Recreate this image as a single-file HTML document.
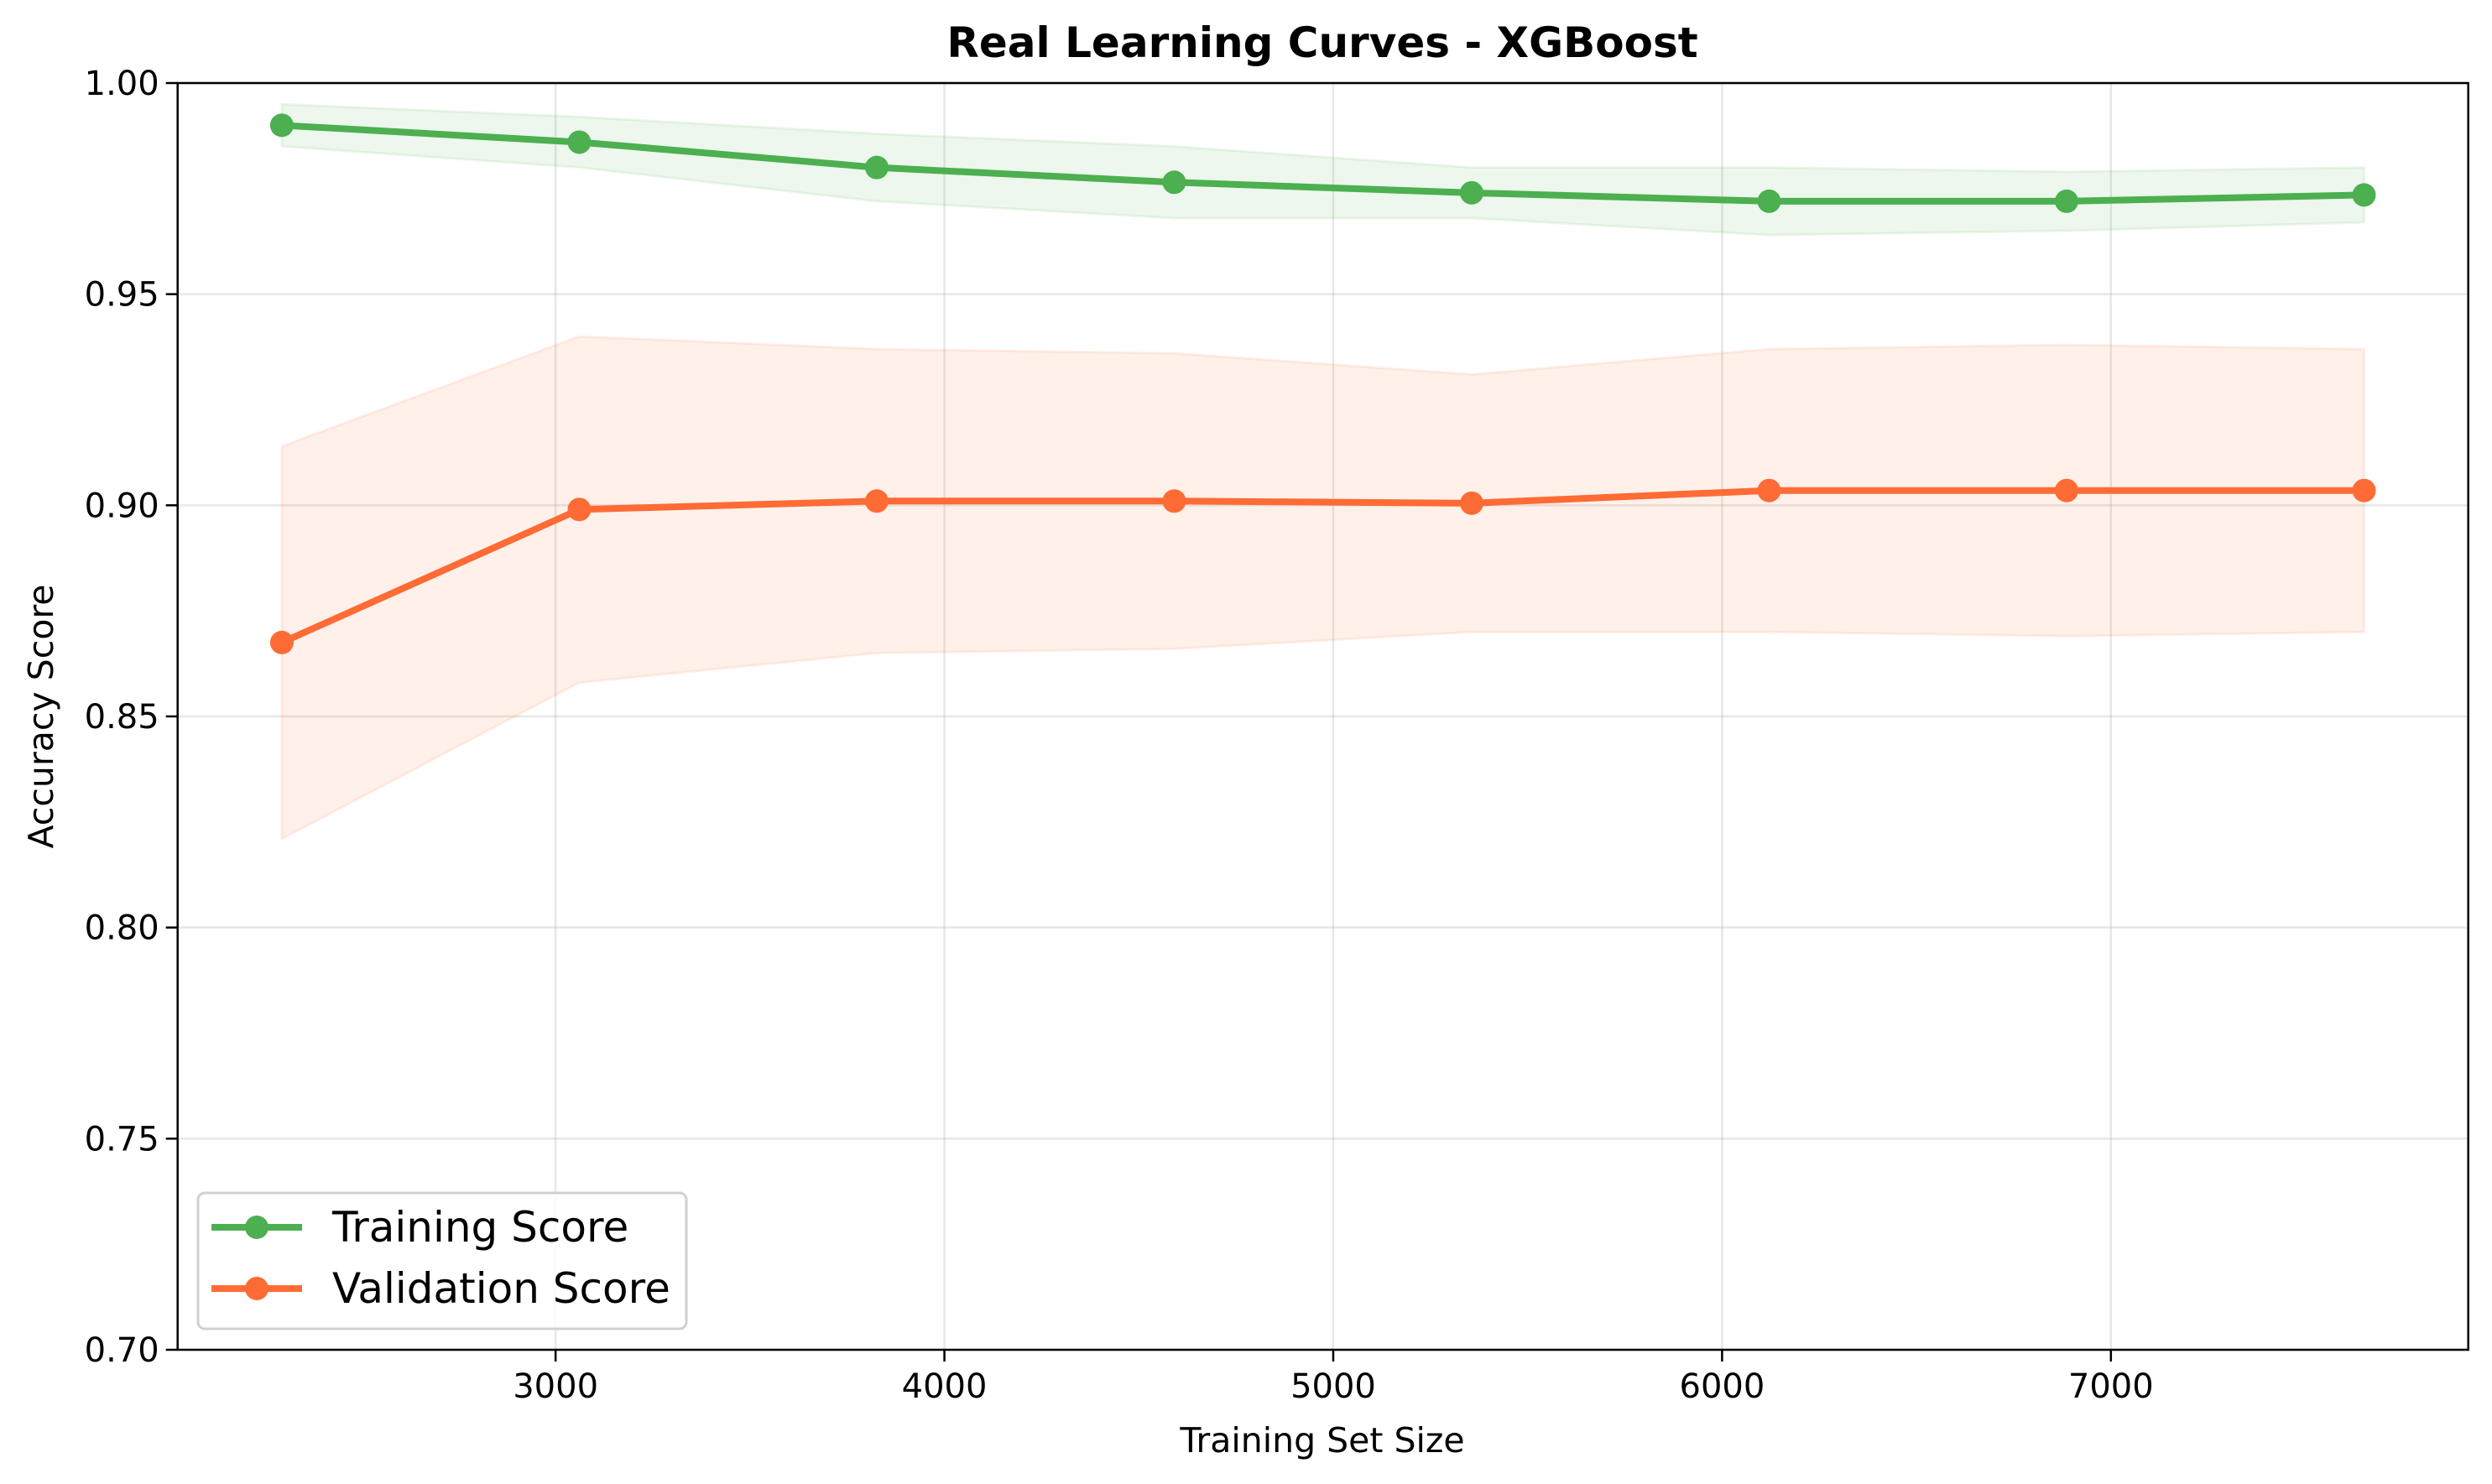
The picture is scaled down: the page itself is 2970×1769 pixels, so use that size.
<!DOCTYPE html>
<html><head><meta charset="utf-8"><style>
html,body{margin:0;padding:0;background:#fff;}
svg{display:block;font-family:"DejaVu Sans","Liberation Sans",sans-serif;}
</style></head><body>
<svg id="chart" width="2970" height="1769" viewBox="0 0 2970 1769" xmlns="http://www.w3.org/2000/svg">
<rect width="2970" height="1769" fill="#fff"/>
<text x="1576" y="68" text-anchor="middle" font-size="50" font-weight="bold">Real Learning Curves - XGBoost</text>
<text x="1576" y="1731" text-anchor="middle" font-size="41">Training Set Size</text>
<text transform="translate(63,854) rotate(-90)" text-anchor="middle" font-size="41">Accuracy Score</text>
<g id="grid"></g><g id="bands"></g><g id="lines"></g><g id="axes"></g><g id="legend"></g>
</svg>
<script>
const sizes = [2296, 3061, 3826, 4591, 5356, 6121, 6886, 7651];
const trainMean = [0.990, 0.986, 0.980, 0.9765, 0.974, 0.972, 0.972, 0.9735];
const trainUpper = [0.995, 0.992, 0.988, 0.985, 0.980, 0.980, 0.979, 0.980];
const trainLower = [0.985, 0.980, 0.972, 0.968, 0.968, 0.964, 0.965, 0.967];
const valMean = [0.8675, 0.899, 0.901, 0.901, 0.9005, 0.9035, 0.9035, 0.9035];
const valUpper = [0.914, 0.940, 0.937, 0.936, 0.931, 0.937, 0.938, 0.937];
const valLower = [0.821, 0.858, 0.865, 0.866, 0.870, 0.870, 0.869, 0.870];
const xTicks = [3000, 4000, 5000, 6000, 7000];
const yTicks = [0.70, 0.75, 0.80, 0.85, 0.90, 0.95, 1.00];

const L=211.7,R=2941.7,T=99,B=1609;
const xMin=2028,xMax=7919,yMin=0.70,yMax=1.00;
const X=v=>L+(v-xMin)/(xMax-xMin)*(R-L);
const Y=v=>B-(v-yMin)/(yMax-yMin)*(B-T);
const NS="http://www.w3.org/2000/svg";
function mk(tag,attrs,parent){const e=document.createElementNS(NS,tag);for(const k in attrs)e.setAttribute(k,attrs[k]);parent.appendChild(e);return e;}
const grid=document.getElementById('grid'),bands=document.getElementById('bands'),lines=document.getElementById('lines'),axes=document.getElementById('axes'),legend=document.getElementById('legend');

xTicks.forEach(t=>{
  const g=mk('line',{x1:X(t),x2:X(t),y1:T,y2:B,stroke:'#b0b0b0','stroke-opacity':0.3,'stroke-width':2.5},grid);
  
  
  const tk=mk('line',{x1:X(t),x2:X(t),y1:B,y2:B+14,stroke:'#000','stroke-width':2.5},axes);
  
  
  const tx=mk('text',{x:X(t),y:B+57,'text-anchor':'middle','font-size':40},axes);
  tx.textContent=String(t);
  
  
});
yTicks.forEach(t=>{
  const g=mk('line',{x1:L,x2:R,y1:Y(t),y2:Y(t),stroke:'#b0b0b0','stroke-opacity':0.3,'stroke-width':2.5},grid);
  
  
  const tk=mk('line',{x1:L-14,x2:L,y1:Y(t),y2:Y(t),stroke:'#000','stroke-width':2.5},axes);
  
  
  const tx=mk('text',{x:L-22,y:Y(t)+14,'text-anchor':'end','font-size':40},axes);
  tx.textContent=t.toFixed(2);
  
  
});
const frame=mk('rect',{x:L,y:T,width:R-L,height:B-T,fill:'none',stroke:'#000','stroke-width':2.5},axes);



function band(up,lo,color,name){
  let pts=sizes.map((s,i)=>X(s)+','+Y(up[i]));
  pts=pts.concat(sizes.map((s,i)=>X(s)+','+Y(lo[i])).reverse());
  const p=mk('polygon',{points:pts.join(' '),fill:color,'fill-opacity':0.1,stroke:color,'stroke-opacity':0.1,'stroke-width':3},bands);
  
  
}
band(trainUpper,trainLower,'#4CAF50','training-std-band');
band(valUpper,valLower,'#FF6B35','validation-std-band');

function series(vals,color,name){
  const pl=mk('polyline',{points:sizes.map((s,i)=>X(s)+','+Y(vals[i])).join(' '),fill:'none',stroke:color,'stroke-width':8,'stroke-linejoin':'round'},lines);
  
  
  sizes.forEach((s,i)=>{
    const c=mk('circle',{cx:X(s),cy:Y(vals[i]),r:14,fill:color},lines);
    
    
  });
}
series(trainMean,'#4CAF50','training-score');
series(valMean,'#FF6B35','validation-score');

const lb=mk('rect',{x:236,y:1422,width:582,height:162,rx:8,fill:'#fff','fill-opacity':0.8,stroke:'#d0d0d0','stroke-width':3},legend);


[['Training Score','#4CAF50',1463,'legend-entry-training'],['Validation Score','#FF6B35',1536,'legend-entry-validation']].forEach(([lab,col,y,nm])=>{
  const g=mk('g',{},legend);
  
  
  mk('line',{x1:252,x2:360,y1:y,y2:y,stroke:col,'stroke-width':8},g);
  mk('circle',{cx:306,cy:y,r:14,fill:col},g);
  const t=mk('text',{x:396,y:y+17,'font-size':50},g);
  t.textContent=lab;
});
</script>
</body></html>
